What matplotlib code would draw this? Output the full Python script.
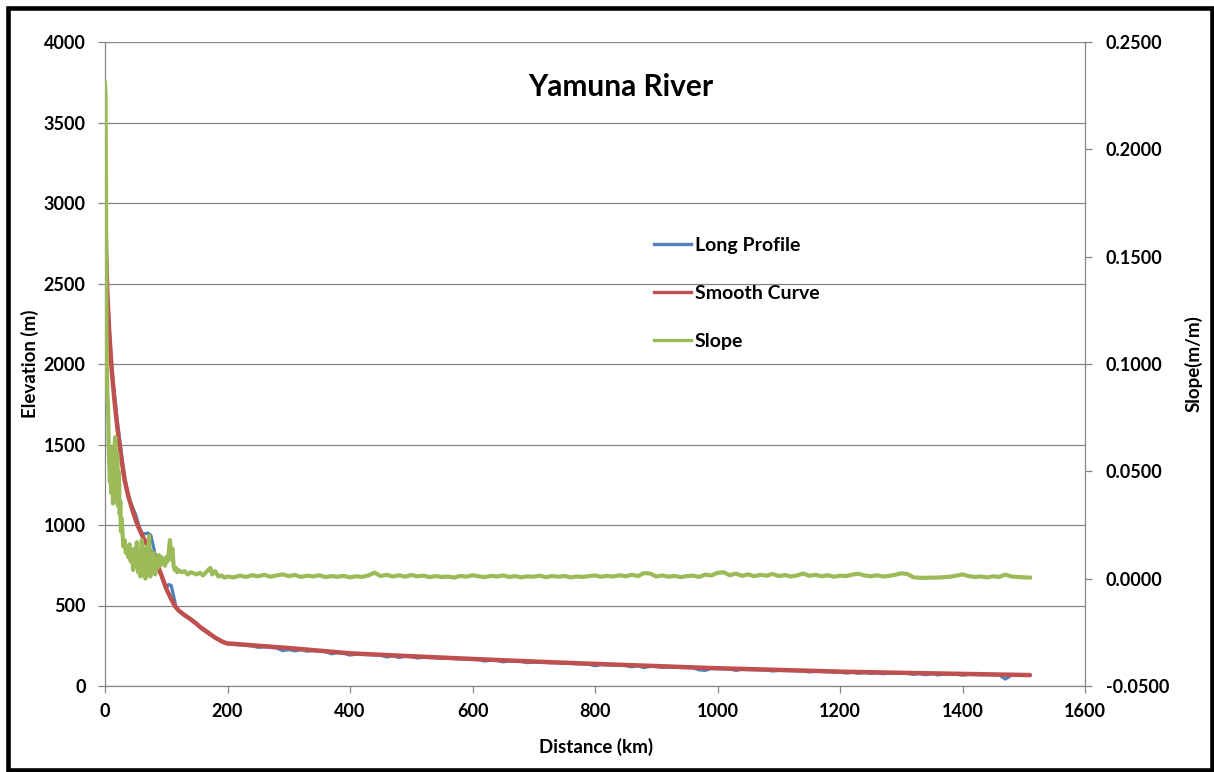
import matplotlib
matplotlib.use("Agg")
import matplotlib.pyplot as plt
from matplotlib.patches import Rectangle
from matplotlib.lines import Line2D
from matplotlib.ticker import FuncFormatter

plt.rcParams['font.family'] = ['Lato', 'DejaVu Sans']
plt.rcParams['font.weight'] = 'bold'
plt.rcParams['axes.unicode_minus'] = False

# ---------------- data ----------------
# Smooth curve (km, m)
smooth_km = [0, 1.6, 4, 7, 11, 15, 20, 24, 28, 32, 38, 45, 53, 62, 72, 84, 92, 100,
             107, 114, 120, 130, 139, 150, 155, 166, 180, 193, 199, 210, 250, 300,
             400, 500, 601, 700, 803, 900, 971, 1004, 1100, 1203, 1300, 1404, 1510]
smooth_elev = [3050, 2730, 2420, 2190, 1960, 1790, 1610, 1490, 1380, 1280, 1180, 1090,
               1000, 925, 850, 766, 690, 605, 548, 497, 470, 440, 417, 385, 367, 338,
               300, 273, 265, 262, 250, 236, 203, 185, 168, 152, 137, 124, 114, 110,
               100, 89, 82, 75, 68]

# Long profile (km, m)
profile_km_upper = [0, 2, 4, 7, 10, 13, 16, 20, 24, 28, 32, 36, 40, 45, 50, 55, 60, 65,
                    70, 75, 80, 85, 90, 95, 100, 104, 108, 112, 116, 120, 130, 140, 150,
                    160, 170, 180, 190]
profile_elev_upper = [3050, 2680, 2440, 2220, 2030, 1900, 1790, 1650, 1530, 1410, 1300,
                      1220, 1160, 1110, 1065, 1000, 950, 945, 950, 935, 850, 770, 715,
                      650, 610, 630, 625, 560, 490, 468, 438, 412, 382, 350, 322, 298,
                      276]
profile_km_lower = list(range(200, 1520, 10))
profile_elev_lower = [262, 258, 256, 252, 249, 240, 243, 240, 236, 220, 226, 218, 226,
                      216, 220, 216, 213, 200, 207, 203, 192, 198, 196, 195, 193, 190,
                      180, 187, 177, 184, 182, 174, 178, 177, 175, 172, 172, 170, 168,
                      167, 165, 163, 155, 160, 158, 150, 155, 154, 152, 145, 149, 147,
                      146, 144, 143, 141, 140, 138, 137, 135, 125, 133, 131, 130, 128,
                      127, 119, 125, 114, 122, 121, 115, 118, 117, 115, 114, 113, 100,
                      97, 109, 107, 106, 105, 97, 103, 102, 101, 100, 99, 93, 97, 96, 95,
                      94, 93, 87, 91, 90, 88, 87, 86, 80, 85, 79, 83, 78, 82, 76, 80, 80,
                      79, 78, 72, 77, 70, 76, 69, 74, 74, 73, 67, 72, 71, 70, 70, 69, 68,
                      43, 67, 66, 66, 65]

# Slope (km, m/m)
slope_km_upper = [0, 0.8, 1.5, 2, 2.5, 3, 4, 5, 6, 7, 8, 9, 10, 11, 12, 13, 14, 15, 16,
                  17, 18, 19, 20, 21, 22, 23, 24, 25, 26, 27, 28, 30, 32, 34, 36, 38, 40,
                  42, 44, 46, 48, 50, 52, 54, 56, 58, 60, 62, 64, 66, 68, 70, 72, 74, 76,
                  78, 80, 82, 84, 86, 88, 90, 92, 94, 96, 98, 100, 102, 104, 106, 108,
                  110, 112, 114, 116, 118, 120, 125, 130, 135, 140, 145, 150, 155, 160,
                  165, 170, 172, 175, 180, 185, 190, 195]
slope_val_upper = [0.231, 0.226, 0.19, 0.15, 0.12, 0.10, 0.085, 0.080, 0.062, 0.053,
                   0.045, 0.058, 0.040, 0.050, 0.061, 0.035, 0.050, 0.042, 0.064, 0.066,
                   0.048, 0.036, 0.058, 0.034, 0.050, 0.045, 0.030, 0.036, 0.022, 0.028,
                   0.024, 0.015, 0.018, 0.012, 0.015, 0.010, 0.016, 0.008, 0.013, 0.004,
                   0.014, 0.006, 0.017, 0.003, 0.012, 0.001, 0.018, 0.002, 0.010, 0.000,
                   0.015, 0.003, 0.020, 0.001, 0.011, 0.004, 0.012, 0.002, 0.009, 0.005,
                   0.011, 0.006, 0.010, 0.007, 0.009, 0.006, 0.010, 0.008, 0.012, 0.018,
                   0.009, 0.014, 0.006, 0.004, 0.005, 0.003, 0.004, 0.003, 0.0035, 0.002,
                   0.003, 0.0025, 0.002, 0.0028, 0.0015, 0.003, 0.0045, 0.005, 0.002,
                   0.0035, 0.001, 0.0015, 0.0005]
slope_km_lower = list(range(200, 1520, 10))
slope_val_lower = [0.0010, 0.0006, 0.0014, 0.0008, 0.0016, 0.0011, 0.0018, 0.0009,
                   0.0015, 0.0020, 0.0012, 0.0017, 0.0008, 0.0014, 0.0010, 0.0016,
                   0.0007, 0.0012, 0.0009, 0.0013, 0.0006, 0.0011, 0.0008, 0.0015,
                   0.0028, 0.0012, 0.0018, 0.0010, 0.0016, 0.0009, 0.0017, 0.0011,
                   0.0014, 0.0007, 0.0012, 0.0008, 0.0010, 0.0005, 0.0013, 0.0009,
                   0.0016, 0.0011, 0.0007, 0.0013, 0.0010, 0.0015, 0.0008, 0.0012,
                   0.0006, 0.0011, 0.0009, 0.0014, 0.0007, 0.0012, 0.0009, 0.0013,
                   0.0006, 0.0010, 0.0008, 0.0012, 0.0015, 0.0009, 0.0013, 0.0010,
                   0.0016, 0.0011, 0.0018, 0.0012, 0.0026, 0.0024, 0.0010, 0.0015,
                   0.0009, 0.0013, 0.0007, 0.0012, 0.0014, 0.0008, 0.0019, 0.0015,
                   0.0027, 0.0030, 0.0016, 0.0024, 0.0013, 0.0020, 0.0011, 0.0018,
                   0.0014, 0.0022, 0.0012, 0.0017, 0.0010, 0.0015, 0.0024, 0.0013,
                   0.0018, 0.0011, 0.0016, 0.0009, 0.0014, 0.0012, 0.0019, 0.0023,
                   0.0015, 0.0011, 0.0016, 0.0010, 0.0013, 0.0018, 0.0025, 0.0022,
                   0.0006, 0.0004, 0.0004, 0.0005, 0.0005, 0.0007, 0.0009, 0.0014,
                   0.0020, 0.0012, 0.0008, 0.0010, 0.0006, 0.0011, 0.0008, 0.0019,
                   0.0010, 0.0008, 0.0006, 0.0005]

profile_km = profile_km_upper + profile_km_lower
profile_elev = profile_elev_upper + profile_elev_lower
slope_km = slope_km_upper + slope_km_lower
slope_val = slope_val_upper + slope_val_lower

x_ticks = [0, 200, 400, 600, 800, 1000, 1200, 1400, 1600]
elev_ticks = [0, 500, 1000, 1500, 2000, 2500, 3000, 3500, 4000]
slope_ticks = [-0.05, 0.0, 0.05, 0.10, 0.15, 0.20, 0.25]

# ---------------- styling ----------------
BLUE = '#4F81BD'
RED = '#C0504D'
GREEN = '#9BBB59'
GRAY = '#868686'
W, H = 1214, 772

fig = plt.figure(figsize=(W / 100, H / 100), dpi=100)
ax = fig.add_axes([105 / W, 1 - 686 / H, 980 / W, 644 / H])
ax2 = ax.twinx()

l_prof, = ax.plot(profile_km, profile_elev, color=BLUE, lw=2.3, solid_joinstyle='round')
l_smooth, = ax.plot(smooth_km, smooth_elev, color=RED, lw=3.2, solid_capstyle='round')
l_slope, = ax2.plot(slope_km, slope_val, color=GREEN, lw=3.0, solid_joinstyle='round')

ax.set_xlim(0, 1600)
ax.set_ylim(0, 4000)
ax2.set_ylim(-0.05, 0.25)
ax.set_xticks(x_ticks)
ax.set_yticks(elev_ticks)
ax2.set_yticks(slope_ticks)
ax2.yaxis.set_major_formatter(FuncFormatter(lambda v, p: f"{v:.4f}"))

ax.set_axisbelow(True)
ax.yaxis.grid(True, color=GRAY, lw=0.9)
ax.xaxis.grid(False)

for a in (ax, ax2):
    a.spines['top'].set_visible(False)
    for s in ('left', 'right', 'bottom'):
        a.spines[s].set_color(GRAY)
        a.spines[s].set_linewidth(0.9)
ax.spines['right'].set_visible(False)
ax2.spines['left'].set_visible(False)
ax2.spines['bottom'].set_visible(False)

ax.tick_params(axis='y', direction='out', length=5, width=0.9, color=GRAY,
               labelsize=13, pad=9)
ax.tick_params(axis='x', direction='out', length=5, width=0.9, color=GRAY,
               labelsize=13, pad=7)
ax2.tick_params(axis='y', direction='out', length=5, width=0.9, color=GRAY,
                labelsize=13, pad=10)
for lab in ax.get_xticklabels() + ax.get_yticklabels() + ax2.get_yticklabels():
    lab.set_fontweight('bold')

ax.set_xlabel('Distance (km)', fontsize=13.5, fontweight='bold')
ax.xaxis.set_label_coords((596 - 105) / 980, (686 - 738) / 644)
ax.set_ylabel('Elevation (m)', fontsize=13.5, fontweight='bold')
ax.yaxis.set_label_coords((39 - 105) / 980, 0.5)
ax2.set_ylabel('Slope(m/m)', fontsize=13.5, fontweight='bold', rotation=90)
ax2.yaxis.set_label_coords((1184 - 105) / 980, 0.5)

fig.text(621 / W, 1 - 87 / H, 'Yamuna River', ha='center', va='center',
         fontsize=21.5, fontweight='bold')

handles = [Line2D([], [], color=BLUE, lw=2.4),
           Line2D([], [], color=RED, lw=2.4),
           Line2D([], [], color=GREEN, lw=2.4)]
ax2.legend(handles, ['Long Profile', 'Smooth Curve', 'Slope'], loc='upper left',
           bbox_to_anchor=(654 / W, 1 - 237 / H), bbox_transform=fig.transFigure,
           frameon=False, borderpad=0, borderaxespad=0, handlelength=1.9,
           handletextpad=0.2, labelspacing=1.6, prop={'size': 14, 'weight': 'bold'})

fig.patches.append(Rectangle((7.5 / W, 2.5 / H), 1204 / W, 762 / H, fill=False,
                             edgecolor='black', lw=3.3, transform=fig.transFigure,
                             figure=fig))

fig.savefig('out.png', dpi=100)
